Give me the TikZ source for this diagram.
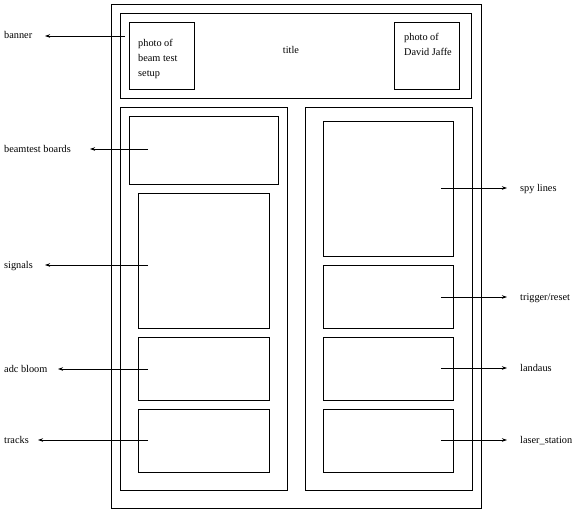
\documentclass[tikz,border=0pt]{standalone}
\usepackage{fontspec}
\setmainfont{Liberation Serif}
\usetikzlibrary{arrows.meta,calc}
\tikzset{
  panel/.style={draw, line width=0.8pt, inner sep=0pt, anchor=north west},
  lbl/.style={font=\fontsize{10.3}{15}\selectfont, inner sep=0pt, anchor=base west},
  photolbl/.style={lbl, anchor=north west, align=left},
  ptr/.style={-{Stealth[length=5pt,width=3.5pt]}, line width=0.8pt},
}
\begin{document}
\begin{tikzpicture}[x=1pt, y=-1pt]
  \useasboundingbox (0,0) rectangle (583,519);

  % poster frame
  \node[panel, minimum width=370, minimum height=504] (poster) at (111,4) {};
  \node[panel, minimum width=351, minimum height=85] (banner) at (120,13) {};
  \node[panel, minimum width=65, minimum height=67] (photoA) at (129,22) {};
  \node[panel, minimum width=65, minimum height=67] (photoB) at (394,22) {};
  \node[photolbl] (photoAtxt) at (138,39) {photo of\\beam test\\setup};
  \node[photolbl] (photoBtxt) at (404,33) {photo of\\David Jaffe};
  \node[lbl, anchor=base] (title) at (291,53) {title};

  % columns
  \node[panel, minimum width=167, minimum height=383] (leftcol) at (120,107) {};
  \node[panel, minimum width=167, minimum height=383] (rightcol) at (305,107) {};

  % left column panels
  \node[panel, minimum width=149, minimum height=68] (boards) at (129,116) {};
  \node[panel, minimum width=131, minimum height=135] (signals) at (138,193) {};
  \node[panel, minimum width=131, minimum height=63] (adc) at (138,337) {};
  \node[panel, minimum width=131, minimum height=63] (tracks) at (138,409) {};

  % right column panels
  \node[panel, minimum width=130, minimum height=135] (spy) at (323,121) {};
  \node[panel, minimum width=130, minimum height=63] (trigger) at (323,265) {};
  \node[panel, minimum width=130, minimum height=63] (landaus) at (323,337) {};
  \node[panel, minimum width=130, minimum height=63] (laser) at (323,409) {};

  % labels
  \node[lbl] (bannerlbl) at (4,39) {banner};
  \node[lbl] (boardslbl) at (4,152) {beamtest boards};
  \node[lbl] (signalslbl) at (4,268) {signals};
  \node[lbl] (adclbl) at (4,372) {adc bloom};
  \node[lbl] (trackslbl) at (4,443) {tracks};
  \node[lbl] (spylbl) at (520,191) {spy lines};
  \node[lbl] (triggerlbl) at (520,300) {trigger/reset};
  \node[lbl] (landauslbl) at (520,371) {landaus};
  \node[lbl] (laserlbl) at (520,443) {laser\_station};

  % arrow tips
  \coordinate (bannertip) at (45,36);
  \coordinate (boardstip) at (90,149);
  \coordinate (signalstip) at (45,265);
  \coordinate (adctip) at (58,369);
  \coordinate (trackstip) at (38,440);
  \coordinate (spytip) at (507,188);
  \coordinate (triggertip) at (507,297);
  \coordinate (landaustip) at (507,368);
  \coordinate (lasertip) at (507,440);

  % pointers
  \draw[ptr] ([xshift=5pt]banner.west |- bannertip) -- (bannertip);
  \draw[ptr] ([xshift=19pt]boards.west |- boardstip) -- (boardstip);
  \draw[ptr] ([xshift=10pt]signals.west |- signalstip) -- (signalstip);
  \draw[ptr] ([xshift=10pt]adc.west |- adctip) -- (adctip);
  \draw[ptr] ([xshift=10pt]tracks.west |- trackstip) -- (trackstip);
  \draw[ptr] ([xshift=-13pt]spy.east |- spytip) -- (spytip);
  \draw[ptr] ([xshift=-13pt]trigger.east |- triggertip) -- (triggertip);
  \draw[ptr] ([xshift=-13pt]landaus.east |- landaustip) -- (landaustip);
  \draw[ptr] ([xshift=-13pt]laser.east |- lasertip) -- (lasertip);
\end{tikzpicture}
\end{document}
